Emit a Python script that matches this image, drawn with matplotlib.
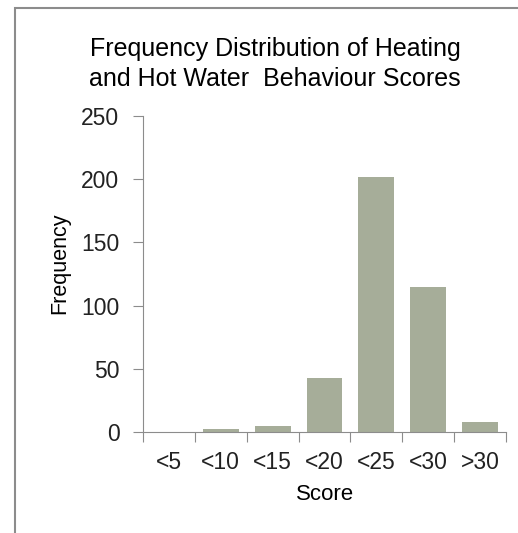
import matplotlib.pyplot as plt
from matplotlib.patches import Rectangle

categories = ["<5", "<10", "<15", "<20", "<25", "<30", ">30"]
frequency = [0, 2, 5, 43, 202, 115, 8]

plt.rcParams['font.family'] = ['Liberation Sans', 'DejaVu Sans']
W, H = 518, 533

fig = plt.figure(figsize=(W / 100, H / 100), dpi=100)
# chart border (only top and left edges show in the reference)
fig.patches.append(Rectangle((15 / W, -0.1), 1.2, 1 - 8 / H + 0.1, transform=fig.transFigure,
                             fill=False, edgecolor='#8c8c8c', linewidth=1.5))

ax = fig.add_axes([143 / W, 1 - 432 / H, (506 - 143) / W, (432 - 116) / H])
x = list(range(len(categories)))
ax.bar(x, frequency, width=0.69, color='#a6ad99')
ax.set_xlim(-0.5, len(categories) - 0.5)
ax.set_ylim(0, 250)
ax.set_yticks([0, 50, 100, 150, 200, 250])

# boundary ticks on major, labels on minor
ax.set_xticks([i - 0.5 for i in range(len(categories) + 1)])
ax.set_xticklabels([])
ax.set_xticks(x, minor=True)
ax.set_xticklabels(categories, minor=True, fontsize=16.5)
ax.tick_params(axis='x', which='minor', length=0, pad=14, labelcolor='#222222')
ax.tick_params(axis='x', which='major', length=7, color='#8c8c8c', direction='out')
ax.tick_params(axis='y', length=7, color='#8c8c8c', labelsize=16.5, pad=10, labelcolor='#222222')
for s in ['top', 'right']:
    ax.spines[s].set_visible(False)
for s in ['left', 'bottom']:
    ax.spines[s].set_color('#8c8c8c')

fig.text(325 / W, 1 - 495 / H, "Score", ha='center', va='center', fontsize=16)
fig.text(60 / W, 1 - 263 / H, "Frequency", ha='center', va='center', rotation=90, fontsize=15.5)

fig.text(275 / W, 1 - 64 / H, "Frequency Distribution of Heating\nand Hot Water  Behaviour Scores",
         ha='center', va='center', fontsize=18, linespacing=1.35)

fig.savefig("out.png", dpi=100)
